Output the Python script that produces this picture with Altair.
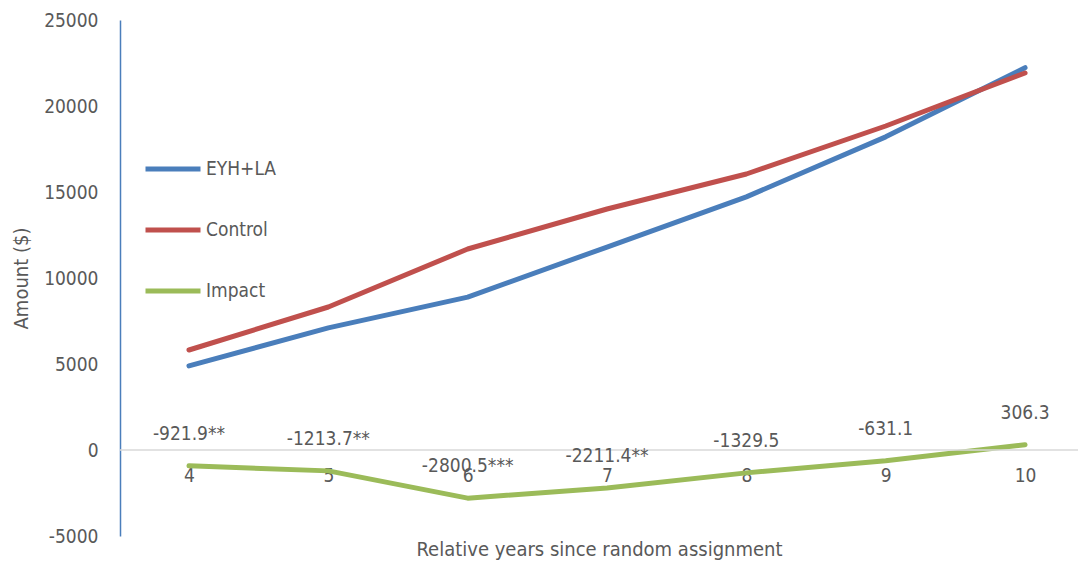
import altair as alt
import pandas as pd

years = [4, 5, 6, 7, 8, 9, 10]
eyh_la = [4892, 7100, 8886, 11801, 14718, 18206, 22225]
control = [5814, 8314, 11686, 14012, 16047, 18837, 21919]
impact = [-921.9, -1213.7, -2800.5, -2211.4, -1329.5, -631.1, 306.3]
impact_labels = ["-921.9**", "-1213.7**", "-2800.5***", "-2211.4**", "-1329.5", "-631.1", "306.3"]
y_ticks = [-5000, 0, 5000, 10000, 15000, 20000, 25000]
series_names = ["EYH+LA", "Control", "Impact"]
series_colors = ["#4A7EBB", "#C0504D", "#9BBB59"]

rows = []
for name, vals in zip(series_names, [eyh_la, control, impact]):
    for yr, v in zip(years, vals):
        rows.append({"year": yr, "value": v, "series": name})
df = pd.DataFrame(rows)
lab = pd.DataFrame({"year": years, "value": impact, "label": impact_labels})

FONT = "DejaVu Sans Condensed, Liberation Sans, sans-serif"
GRAY = "#595959"

xscale = alt.Scale(domain=[3.505, 10.38], nice=False, zero=False)
yscale = alt.Scale(domain=[-5000, 25000], nice=False)

x = alt.X("year:Q", scale=xscale,
          axis=alt.Axis(values=years, format="d", grid=False, ticks=False, domain=False,
                        offset=-86, labelPadding=16, labelFontSize=19, labelColor=GRAY,
                        labelFont=FONT, title="Relative years since random assignment",
                        titleFont=FONT, titleFontSize=20, titleColor=GRAY,
                        titleFontWeight="normal", titlePadding=54))
y = alt.Y("value:Q", scale=yscale,
          axis=alt.Axis(values=y_ticks, grid=False, ticks=False,
                        labelExpr="'' + datum.value",
                        domainColor="#4A7EBB", domainWidth=1.5, labelPadding=22,
                        labelFontSize=19, labelColor=GRAY, labelFont=FONT,
                        title="Amount ($)", titleFont=FONT, titleFontSize=20,
                        titleColor=GRAY, titleFontWeight="normal", titlePadding=12))

lines = alt.Chart(df).mark_line(strokeWidth=5, strokeCap="round", strokeJoin="round").encode(
    x=x, y=y,
    color=alt.Color("series:N",
                    scale=alt.Scale(domain=series_names, range=series_colors),
                    sort=series_names,
                    legend=alt.Legend(title=None, orient="none", legendX=23, legendY=119,
                                      symbolType="stroke", symbolSize=3025,
                                      symbolStrokeWidth=5, labelFontSize=19,
                                      labelFont=FONT, labelColor=GRAY, labelOffset=3,
                                      rowPadding=21)),
    detail="series:N")

zero = alt.Chart(pd.DataFrame({"v": [0]})).mark_rule(color="#D9D9D9", strokeWidth=1.5).encode(
    y=alt.Y("v:Q", scale=yscale))

texts = alt.Chart(lab).mark_text(fontSize=19, font=FONT, color=GRAY, dy=-32,
                                 baseline="middle", align="center").encode(
    x=alt.X("year:Q", scale=xscale),
    y=alt.Y("value:Q", scale=yscale),
    text="label:N")

chart = alt.layer(lines, zero, texts).properties(
    width=958, height=516,
    autosize=alt.AutoSizeParams(type="none"),
    padding={"left": 112, "top": 12, "right": 0, "bottom": 29},
).configure_view(stroke=None)

chart.save("out.html", embed_options={"renderer": "svg", "actions": False})
